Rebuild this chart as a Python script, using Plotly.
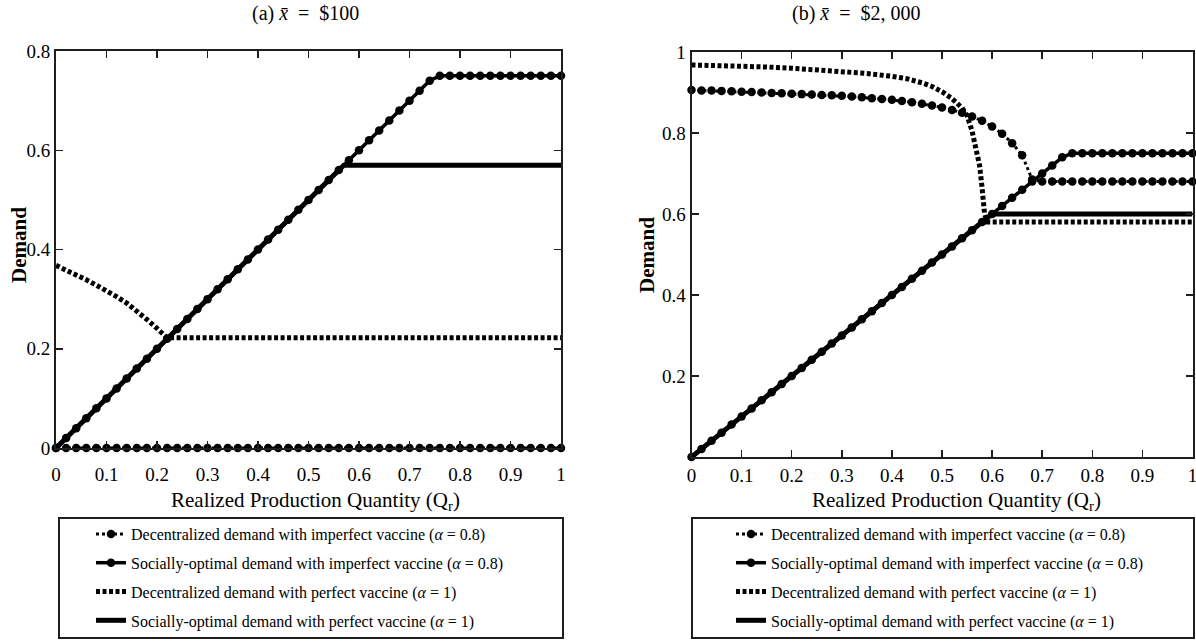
import plotly.graph_objects as go

# ---------------- data ----------------
Q = [0.00, 0.02, 0.04, 0.06, 0.08, 0.10, 0.12, 0.14, 0.16, 0.18, 0.20, 0.22, 0.24, 0.26,
     0.28, 0.30, 0.32, 0.34, 0.36, 0.38, 0.40, 0.42, 0.44, 0.46, 0.48, 0.50, 0.52, 0.54,
     0.56, 0.58, 0.60, 0.62, 0.64, 0.66, 0.68, 0.70, 0.72, 0.74, 0.76, 0.78, 0.80, 0.82,
     0.84, 0.86, 0.88, 0.90, 0.92, 0.94, 0.96, 0.98, 1.00]

# panel (a): x_bar = $100
dec_imp_a = [0.0, 0.0, 0.0, 0.0, 0.0, 0.0, 0.0, 0.0, 0.0, 0.0, 0.0, 0.0, 0.0, 0.0, 0.0, 0.0, 0.0,
             0.0, 0.0, 0.0, 0.0, 0.0, 0.0, 0.0, 0.0, 0.0, 0.0, 0.0, 0.0, 0.0, 0.0, 0.0, 0.0, 0.0,
             0.0, 0.0, 0.0, 0.0, 0.0, 0.0, 0.0, 0.0, 0.0, 0.0, 0.0, 0.0, 0.0, 0.0, 0.0, 0.0, 0.0]
soc_imp_a = [0.00, 0.02, 0.04, 0.06, 0.08, 0.10, 0.12, 0.14, 0.16, 0.18, 0.20, 0.22, 0.24, 0.26,
             0.28, 0.30, 0.32, 0.34, 0.36, 0.38, 0.40, 0.42, 0.44, 0.46, 0.48, 0.50, 0.52, 0.54,
             0.56, 0.58, 0.60, 0.62, 0.64, 0.66, 0.68, 0.70, 0.72, 0.74, 0.75, 0.75, 0.75, 0.75,
             0.75, 0.75, 0.75, 0.75, 0.75, 0.75, 0.75, 0.75, 0.75]
dec_perf_a_x = [0.00, 0.02, 0.04, 0.06, 0.08, 0.10, 0.12, 0.14, 0.16, 0.18, 0.20, 0.22, 1.00]
dec_perf_a = [0.368, 0.359, 0.349, 0.339, 0.328, 0.317, 0.305, 0.292, 0.277, 0.259, 0.241, 0.222, 0.222]
soc_perf_a_x = [0.00, 0.57, 1.00]
soc_perf_a = [0.00, 0.57, 0.57]

# panel (b): x_bar = $2,000
dec_imp_b = [0.906, 0.905, 0.905, 0.904, 0.903, 0.902, 0.901, 0.900, 0.899, 0.898, 0.897, 0.896,
             0.895, 0.894, 0.893, 0.892, 0.890, 0.888, 0.886, 0.884, 0.882, 0.879, 0.876, 0.872,
             0.868, 0.863, 0.857, 0.850, 0.841, 0.830, 0.816, 0.798, 0.775, 0.745, 0.685, 0.68,
             0.68, 0.68, 0.68, 0.68, 0.68, 0.68, 0.68, 0.68, 0.68, 0.68, 0.68, 0.68, 0.68, 0.68, 0.68]
soc_imp_b = [0.00, 0.02, 0.04, 0.06, 0.08, 0.10, 0.12, 0.14, 0.16, 0.18, 0.20, 0.22, 0.24, 0.26,
             0.28, 0.30, 0.32, 0.34, 0.36, 0.38, 0.40, 0.42, 0.44, 0.46, 0.48, 0.50, 0.52, 0.54,
             0.56, 0.58, 0.60, 0.62, 0.64, 0.66, 0.68, 0.70, 0.72, 0.74, 0.75, 0.75, 0.75, 0.75,
             0.75, 0.75, 0.75, 0.75, 0.75, 0.75, 0.75, 0.75, 0.75]
dec_perf_b_x = [0.00, 0.05, 0.10, 0.15, 0.20, 0.25, 0.30, 0.35, 0.40, 0.43, 0.46, 0.48, 0.50, 0.52,
                0.54, 0.55, 0.56, 0.57, 0.575, 0.58, 0.585, 0.59, 1.00]
dec_perf_b = [0.968, 0.967, 0.965, 0.963, 0.960, 0.956, 0.952, 0.947, 0.940, 0.934, 0.924, 0.915,
              0.902, 0.885, 0.862, 0.843, 0.805, 0.755, 0.720, 0.665, 0.600, 0.580, 0.580]
soc_perf_b_x = [0.00, 0.60, 1.00]
soc_perf_b = [0.00, 0.60, 0.60]

names = [
    "Decentralized demand with imperfect vaccine (<i>α</i> = 0.8)",
    "Socially-optimal demand with imperfect vaccine (<i>α</i> = 0.8)",
    "Decentralized demand with perfect vaccine (<i>α</i> = 1)",
    "Socially-optimal demand with perfect vaccine (<i>α</i> = 1)",
]
x_ticks = [0, 0.1, 0.2, 0.3, 0.4, 0.5, 0.6, 0.7, 0.8, 0.9, 1]
x_ticktext = ["0", "0.1", "0.2", "0.3", "0.4", "0.5", "0.6", "0.7", "0.8", "0.9", "1"]
ya_ticks = [0, 0.2, 0.4, 0.6, 0.8]
ya_ticktext = ["0", "0.2", "0.4", "0.6", "0.8"]
yb_ticks = [0.2, 0.4, 0.6, 0.8, 1]
yb_ticktext = ["0.2", "0.4", "0.6", "0.8", "1"]

# ---------------- styling ----------------
W, H = 1196, 643
FONT = "Liberation Serif"
INK = "#1e1e1e"
NB = "\u00a0"


def px_x(p):
    return p / W


def px_y(p):
    return 1 - p / H


fig = go.Figure()


def add_panel(xa, ya, leg, tag, series):
    (dix, diy), (six, siy), (dpx, dpy), (spx, spy) = series
    fig.add_trace(go.Scatter(x=dix, y=diy, xaxis=xa, yaxis=ya, legend=leg, legendgroup=tag + "1",
                             name=names[0], mode="lines+markers", cliponaxis=False,
                             line=dict(color="black", width=3, dash="dot"),
                             marker=dict(symbol="circle", size=8.5, color="black")))
    fig.add_trace(go.Scatter(x=six, y=siy, xaxis=xa, yaxis=ya, legend=leg, legendgroup=tag + "2",
                             name=names[1], mode="lines+markers", cliponaxis=False,
                             line=dict(color="black", width=3.5),
                             marker=dict(symbol="circle", size=8.5, color="black")))
    fig.add_trace(go.Scatter(x=dpx, y=dpy, xaxis=xa, yaxis=ya, legend=leg, legendgroup=tag + "3",
                             name=names[2], mode="lines", cliponaxis=False,
                             line=dict(color="black", width=5, dash="4px,2.5px")))
    fig.add_trace(go.Scatter(x=spx, y=spy, xaxis=xa, yaxis=ya, legend=leg, legendgroup=tag + "4",
                             name=names[3], mode="lines", cliponaxis=False,
                             line=dict(color="black", width=5)))


add_panel("x", "y", "legend", "a",
          [(Q, dec_imp_a), (Q, soc_imp_a), (dec_perf_a_x, dec_perf_a), (soc_perf_a_x, soc_perf_a)])
add_panel("x2", "y2", "legend2", "b",
          [(Q, dec_imp_b), (Q, soc_imp_b), (dec_perf_b_x, dec_perf_b), (soc_perf_b_x, soc_perf_b)])

axis_common = dict(showgrid=False, zeroline=False, showline=True, linewidth=2, linecolor=INK,
                   mirror="ticks", ticks="inside", ticklen=7, tickwidth=1.5, tickcolor=INK,
                   automargin=False, ticklabeloverflow="allow",
                   tickfont=dict(family=FONT, size=19, color="black"))

legend_common = dict(font=dict(family=FONT, size=16, color="black"), bgcolor="rgba(0,0,0,0)",
                     borderwidth=0, itemwidth=30, tracegroupgap=5, xanchor="left", yanchor="top",
                     traceorder="grouped", itemclick=False, itemdoubleclick=False)

fig.update_layout(
    width=W, height=H, margin=dict(l=0, r=0, t=0, b=0, pad=0, autoexpand=False),
    paper_bgcolor="white", plot_bgcolor="white", showlegend=True,
    xaxis=dict(domain=[px_x(56), px_x(561)], range=[0, 1], anchor="y",
               tickvals=x_ticks, ticktext=x_ticktext, ticklabelstandoff=8, **axis_common),
    yaxis=dict(domain=[px_y(448), px_y(51)], range=[0, 0.8], anchor="x",
               tickvals=ya_ticks, ticktext=ya_ticktext, **axis_common),
    xaxis2=dict(domain=[px_x(691.5), px_x(1192.5)], range=[0, 1], anchor="y2",
                tickvals=x_ticks, ticktext=x_ticktext, **axis_common),
    yaxis2=dict(domain=[px_y(457), px_y(52)], range=[0, 1], anchor="x2",
                tickvals=yb_ticks, ticktext=yb_ticktext, **axis_common),
    legend=dict(x=px_x(91), y=px_y(517), **legend_common),
    legend2=dict(x=px_x(731), y=px_y(517), **legend_common),
)

# legend boxes
for x0, x1 in [(59, 563), (692, 1194)]:
    fig.add_shape(type="rect", xref="paper", yref="paper", x0=px_x(x0), x1=px_x(x1),
                  y0=px_y(638), y1=px_y(518), line=dict(color=INK, width=2),
                  fillcolor="rgba(0,0,0,0)", layer="below")

ann = [
    dict(text="(a)" + NB + "<i>x̄</i>" + NB * 2 + "=" + NB * 2 + "$100",
         x=px_x(305), y=px_y(14), size=20, angle=0),
    dict(text="(b)" + NB + "<i>x̄</i>" + NB * 2 + "=" + NB * 2 + "$2," + NB + "000",
         x=px_x(856), y=px_y(14), size=20, angle=0),
    dict(text="Realized Production Quantity (Q<sub>r</sub>)", x=px_x(315), y=px_y(501), size=21,
         angle=0),
    dict(text="Realized Production Quantity (Q<sub>r</sub>)", x=px_x(956), y=px_y(501), size=21,
         angle=0),
    dict(text="<b>Demand</b>", x=px_x(19), y=px_y(245), size=21, angle=-90),
    dict(text="<b>Demand</b>", x=px_x(647), y=px_y(255), size=21, angle=-90),
]
for a in ann:
    fig.add_annotation(text=a["text"], x=a["x"], y=a["y"], xref="paper", yref="paper",
                       showarrow=False, textangle=a["angle"], xanchor="center", yanchor="middle",
                       font=dict(family=FONT, size=a["size"], color="black"))

fig.write_html("out.html", config={"displayModeBar": False, "staticPlot": True},
               post_script="document.body.style.margin='0';document.body.style.padding='0';")
